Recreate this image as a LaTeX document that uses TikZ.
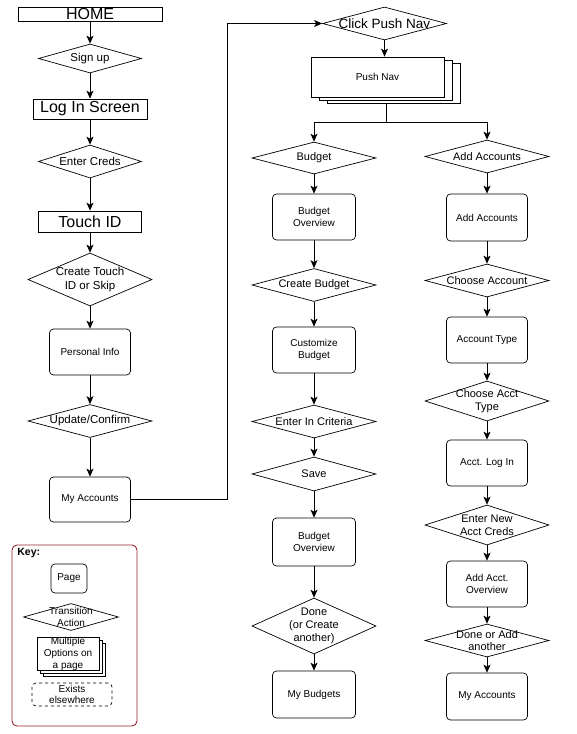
\documentclass[tikz,border=0pt]{standalone}
\usepackage{fontspec}
\setmainfont{Liberation Sans}
\usetikzlibrary{shapes.geometric}
\usetikzlibrary{shadows}
\usetikzlibrary{arrows.meta}

\definecolor{keyred}{RGB}{150,35,45}

\begin{document}
\begin{tikzpicture}[x=1pt, y=-1pt, line width=0.7pt,
  >={Stealth[length=8pt, width=7pt, inset=2pt]},
  flowarrow/.style={->, line width=1pt},
  bigbox/.style={draw, rectangle, inner sep=0pt, font=\fontsize{16}{18}\selectfont},
  pagebox/.style={draw, rectangle, rounded corners=4pt, minimum width=81pt, minimum height=46pt, align=center, font=\fontsize{10}{12}\selectfont},
  action/.style={draw, diamond, aspect=3, inner xsep=0pt, inner ysep=-10pt, minimum width=124pt, minimum height=33pt, align=center, font=\fontsize{11}{12.8}\selectfont},
  stackbox/.style={draw, fill=white, align=center, font=\fontsize{10}{12}\selectfont}]
\useasboundingbox (0,0) rectangle (576,734);

% left column
\node [bigbox, minimum width=144pt, minimum height=14pt] (home) at (90,14) {HOME};
\node [action, minimum width=103pt, minimum height=29pt, font=\fontsize{11.5}{13}\selectfont] (signup) at (90,58.5) {Sign up};
\node [bigbox, minimum width=114pt, minimum height=20pt] (login) at (90,109) {Log In Screen};
\node [action, minimum width=103pt, font=\fontsize{11.5}{13}\selectfont] (creds) at (90,161.5) {Enter Creds};
\node [bigbox, minimum width=103pt, minimum height=21pt] (touch) at (90,221.5) {Touch ID};
\node [action, minimum height=53pt, font=\fontsize{11.5}{13.5}\selectfont] (touchid) at (90,279.5) {Create Touch\\ID or Skip};
\node [pagebox] (personal) at (90,352) {Personal Info};
\node [action, font=\fontsize{11.5}{13}\selectfont] (update) at (90,421) {Update/Confirm};
\node [pagebox, minimum height=45pt] (myacc) at (90,499.5) {My Accounts};

\draw[flowarrow] (home) -- (signup);
\draw[flowarrow] (signup) -- (login);
\draw[flowarrow] (login) -- (creds);
\draw[flowarrow] (creds) -- (touch);
\draw[flowarrow] (touch) -- (touchid);
\draw[flowarrow] (touchid) -- (personal);
\draw[flowarrow] (personal) -- (update);
\draw[flowarrow] (update) -- (myacc);

% push nav
\node [action, font=\fontsize{13.5}{15}\selectfont] (clickpush) at (384.5,23.5) {Click Push Nav};
\node [stackbox, minimum width=133pt, minimum height=40pt,
  copy shadow={shadow xshift=16.5pt, shadow yshift=-6.5pt, draw, fill=white},
  copy shadow={shadow xshift=8.5pt, shadow yshift=-3pt, draw, fill=white}] (pushnav) at (377.5,77) {Push Nav};

\coordinate (bend) at (227,499.5);
\draw[flowarrow] (myacc) -- (bend) |- (clickpush);
\draw[flowarrow] (clickpush) -- (clickpush |- pushnav.north);

% budget column
\node [action, minimum height=32pt] (budget) at (314,158) {Budget};
\node [pagebox, minimum width=83pt] (budgetov) at (314,217) {Budget\\Overview};
\node [action] (createb) at (314,285) {Create Budget};
\node [pagebox, minimum width=83pt] (custom) at (314,350) {Customize\\Budget};
\node [action] (criteria) at (314,421.5) {Enter In Criteria};
\node [action, minimum height=34pt] (save) at (314,474) {Save};
\node [pagebox, minimum width=83pt, minimum height=48pt] (budgetov2) at (314,542) {Budget\\Overview};
\node [action, minimum height=56pt] (done) at (314,626) {Done\\(or Create\\another)};
\node [pagebox, minimum width=83pt, minimum height=47pt] (mybudgets) at (314,694.5) {My Budgets};

% accounts column
\node [action] (addaccd) at (487,156.5) {Add Accounts};
\node [pagebox, minimum height=47pt] (addacc) at (487,217.5) {Add Accounts};
\node [action] (chooseacc) at (487,280.5) {Choose Account};
\node [pagebox] (acctype) at (487,340) {Account Type};
\node [action, minimum height=40pt] (choosetype) at (487,401) {Choose Acct\\Type};
\node [pagebox] (acctlogin) at (487,463) {Acct. Log In};
\node [action, minimum height=40pt] (newcreds) at (487,525) {Enter New\\Acct Creds};
\node [pagebox] (addov) at (487,584) {Add Acct.\\Overview};
\node [action] (doneadd) at (487,640.5) {Done or Add\\another};
\node [pagebox, minimum height=47pt] (myaccs) at (487,696.5) {My Accounts};

\coordinate (split) at (386.5,122);
\draw ([yshift=-6.5pt]pushnav.south -| split) -- (split);
\draw[flowarrow] (split) -| (budget);
\draw[flowarrow] (split) -| (addaccd);

\draw[flowarrow] (budget) -- (budgetov);
\draw[flowarrow] (budgetov) -- (createb);
\draw[flowarrow] (createb) -- (custom);
\draw[flowarrow] (custom) -- (criteria);
\draw[flowarrow] (criteria) -- (save);
\draw[flowarrow] (save) -- (budgetov2);
\draw[flowarrow] (budgetov2) -- (done);
\draw[flowarrow] (done) -- (mybudgets);

\draw[flowarrow] (addaccd) -- (addacc);
\draw[flowarrow] (addacc) -- (chooseacc);
\draw[flowarrow] (chooseacc) -- (acctype);
\draw[flowarrow] (acctype) -- (choosetype);
\draw[flowarrow] (choosetype) -- (acctlogin);
\draw[flowarrow] (acctlogin) -- (newcreds);
\draw[flowarrow] (newcreds) -- (addov);
\draw[flowarrow] (addov) -- (doneadd);
\draw[flowarrow] (doneadd) -- (myaccs);

% key
\node [draw=keyred, line width=0.9pt, rounded corners=5pt, minimum width=125pt, minimum height=181pt] (keybox) at (74.5,635.5) {};
\node [anchor=north west, inner sep=0pt, font=\fontsize{10.5}{12}\selectfont\bfseries] (keylabel) at (17,548) {Key:};
\node [pagebox, minimum width=36pt, minimum height=29pt, inner sep=1pt] (keypage) at (69,578.5) {Page};
\node [action, minimum width=95pt, minimum height=27pt, font=\fontsize{10}{12.5}\selectfont] (keyaction) at (71,617) {Transition\\Action};
\node [stackbox, minimum width=62pt, minimum height=30pt, inner sep=0pt,
  copy shadow={shadow xshift=6pt, shadow yshift=-6pt, draw, fill=white},
  copy shadow={shadow xshift=3pt, shadow yshift=-3pt, draw, fill=white}] (keystack) at (68,654) {Multiple\\Options on\\a page};
\node [pagebox, dashed, minimum width=80pt, minimum height=23pt, inner sep=0pt, font=\fontsize{10}{11.5}\selectfont] (keyelse) at (72,694.5) {Exists\\elsewhere};
\end{tikzpicture}
\end{document}
